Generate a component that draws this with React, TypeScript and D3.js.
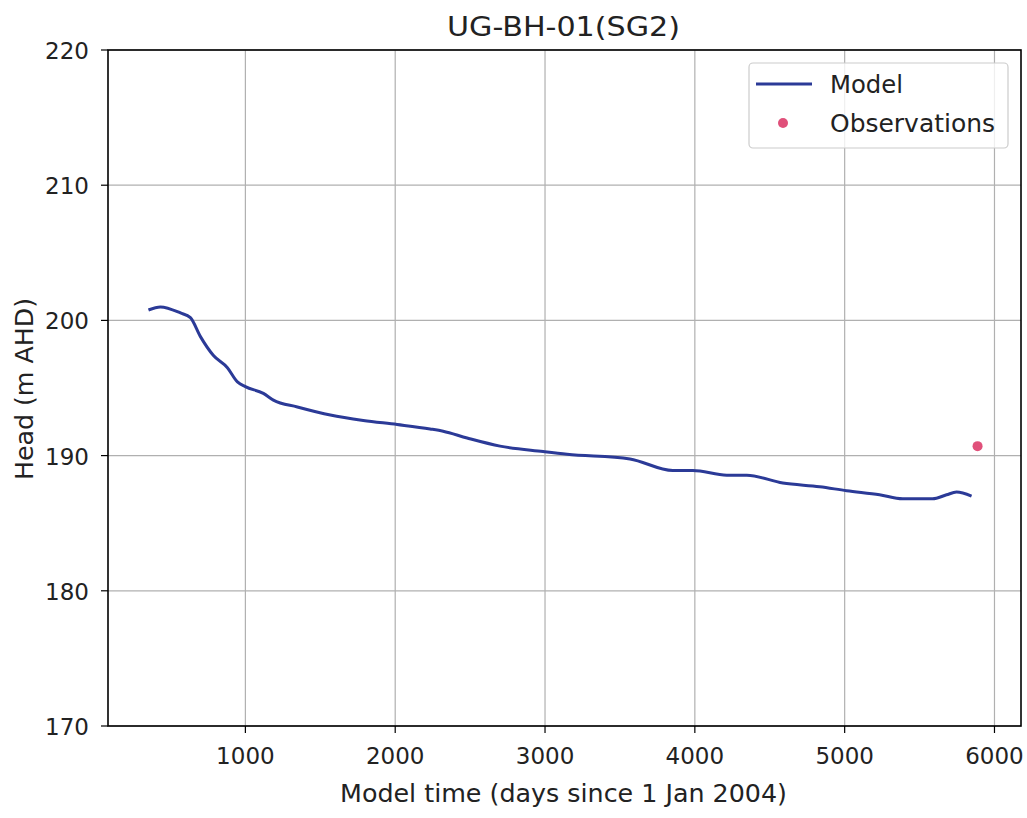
import React from "react";
import * as d3 from "d3";

const modelTime = [353, 433, 567, 633, 700, 787, 880, 947, 1000, 1120, 1187, 1347, 1567, 1787, 2013, 2233, 2320, 2480, 2700, 2987, 3147, 3567, 3853, 3987, 4213, 4347, 4587, 4833, 5013, 5233, 5387, 5587, 5680, 5747, 5847];
const modelHead = [200.77, 201.0, 200.55, 200.2, 198.8, 197.4, 196.5, 195.45, 195.1, 194.6, 194.1, 193.6, 193.0, 192.6, 192.3, 191.97, 191.8, 191.3, 190.7, 190.3, 190.1, 189.75, 188.9, 188.9, 188.55, 188.55, 187.97, 187.7, 187.4, 187.1, 186.8, 186.8, 187.1, 187.3, 187.0];
const obsTime = [5887];
const obsHead = [190.7];
const xTicks = [1000, 2000, 3000, 4000, 5000, 6000];
const yTicks = [170, 180, 190, 200, 210, 220];

const W = 1027, H = 818;
const L = 108, R = 1021, T = 50, B = 726;
const FONT = "DejaVu Sans, sans-serif";

export default function App() {
  const x = d3.scaleLinear().domain([83, 6177]).range([L, R]);
  const y = d3.scaleLinear().domain([170, 220]).range([B, T]);
  const line = d3.line<number>().x((_, i) => x(modelTime[i])).y((d) => y(d)).curve(d3.curveMonotoneX);
  const lineColor = "#2b3a97";
  const obsColor = "#e0507a";
  return (
    <svg width={W} height={H} style={{ position: "absolute", left: 0, top: 0 }}>
      <rect x={0} y={0} width={W} height={H} fill="#fff" />
      {xTicks.map((t) => (
        <line key={"gx" + t} x1={x(t)} x2={x(t)} y1={T} y2={B} stroke="#b0b0b0" strokeWidth={1.2} />
      ))}
      {yTicks.map((t) => (
        <line key={"gy" + t} x1={L} x2={R} y1={y(t)} y2={y(t)} stroke="#b0b0b0" strokeWidth={1.2} />
      ))}
      <path d={line(modelHead) || ""} fill="none" stroke={lineColor} strokeWidth={3} />
      {obsTime.map((t, i) => (
        <circle key={"o" + i} cx={x(t)} cy={y(obsHead[i])} r={5} fill={obsColor} />
      ))}
      <rect x={L} y={T} width={R - L} height={B - T} fill="none" stroke="#000" strokeWidth={1.6} />
      {xTicks.map((t) => (
        <g key={"tx" + t}>
          <line x1={x(t)} x2={x(t)} y1={B} y2={B + 7} stroke="#000" strokeWidth={1.2} />
          <text x={x(t)} y={B + 38} textAnchor="middle" fontFamily={FONT} fontSize={23} fill="#222">{t}</text>
        </g>
      ))}
      {yTicks.map((t) => (
        <g key={"ty" + t}>
          <line x1={L - 7} x2={L} y1={y(t)} y2={y(t)} stroke="#000" strokeWidth={1.2} />
          <text x={L - 19} y={y(t) + 9} textAnchor="end" fontFamily={FONT} fontSize={23} fill="#222">{t}</text>
        </g>
      ))}
      <text x={447} y={36} textLength={233} lengthAdjust="spacingAndGlyphs" fontFamily={FONT} fontSize={27} fill="#222">UG-BH-01(SG2)</text>
      <text x={340} y={802} textLength={447} lengthAdjust="spacingAndGlyphs" fontFamily={FONT} fontSize={24} fill="#222">Model time (days since 1 Jan 2004)</text>
      <text transform={`translate(33,480) rotate(-90)`} textLength={182} lengthAdjust="spacingAndGlyphs" fontFamily={FONT} fontSize={24} fill="#222">Head (m AHD)</text>
      <g>
        <rect x={749} y={63} width={259} height={85} rx={4} fill="#fff" fillOpacity={0.8} stroke="#ccc" strokeWidth={1.2} />
        <line x1={756} x2={812} y1={84} y2={84} stroke={lineColor} strokeWidth={3} />
        <text x={830} y={93} textLength={73} lengthAdjust="spacingAndGlyphs" fontFamily={FONT} fontSize={24} fill="#222">Model</text>
        <circle cx={783} cy={123} r={5} fill={obsColor} />
        <text x={830} y={132} textLength={165} lengthAdjust="spacingAndGlyphs" fontFamily={FONT} fontSize={24} fill="#222">Observations</text>
      </g>
    </svg>
  );
}
